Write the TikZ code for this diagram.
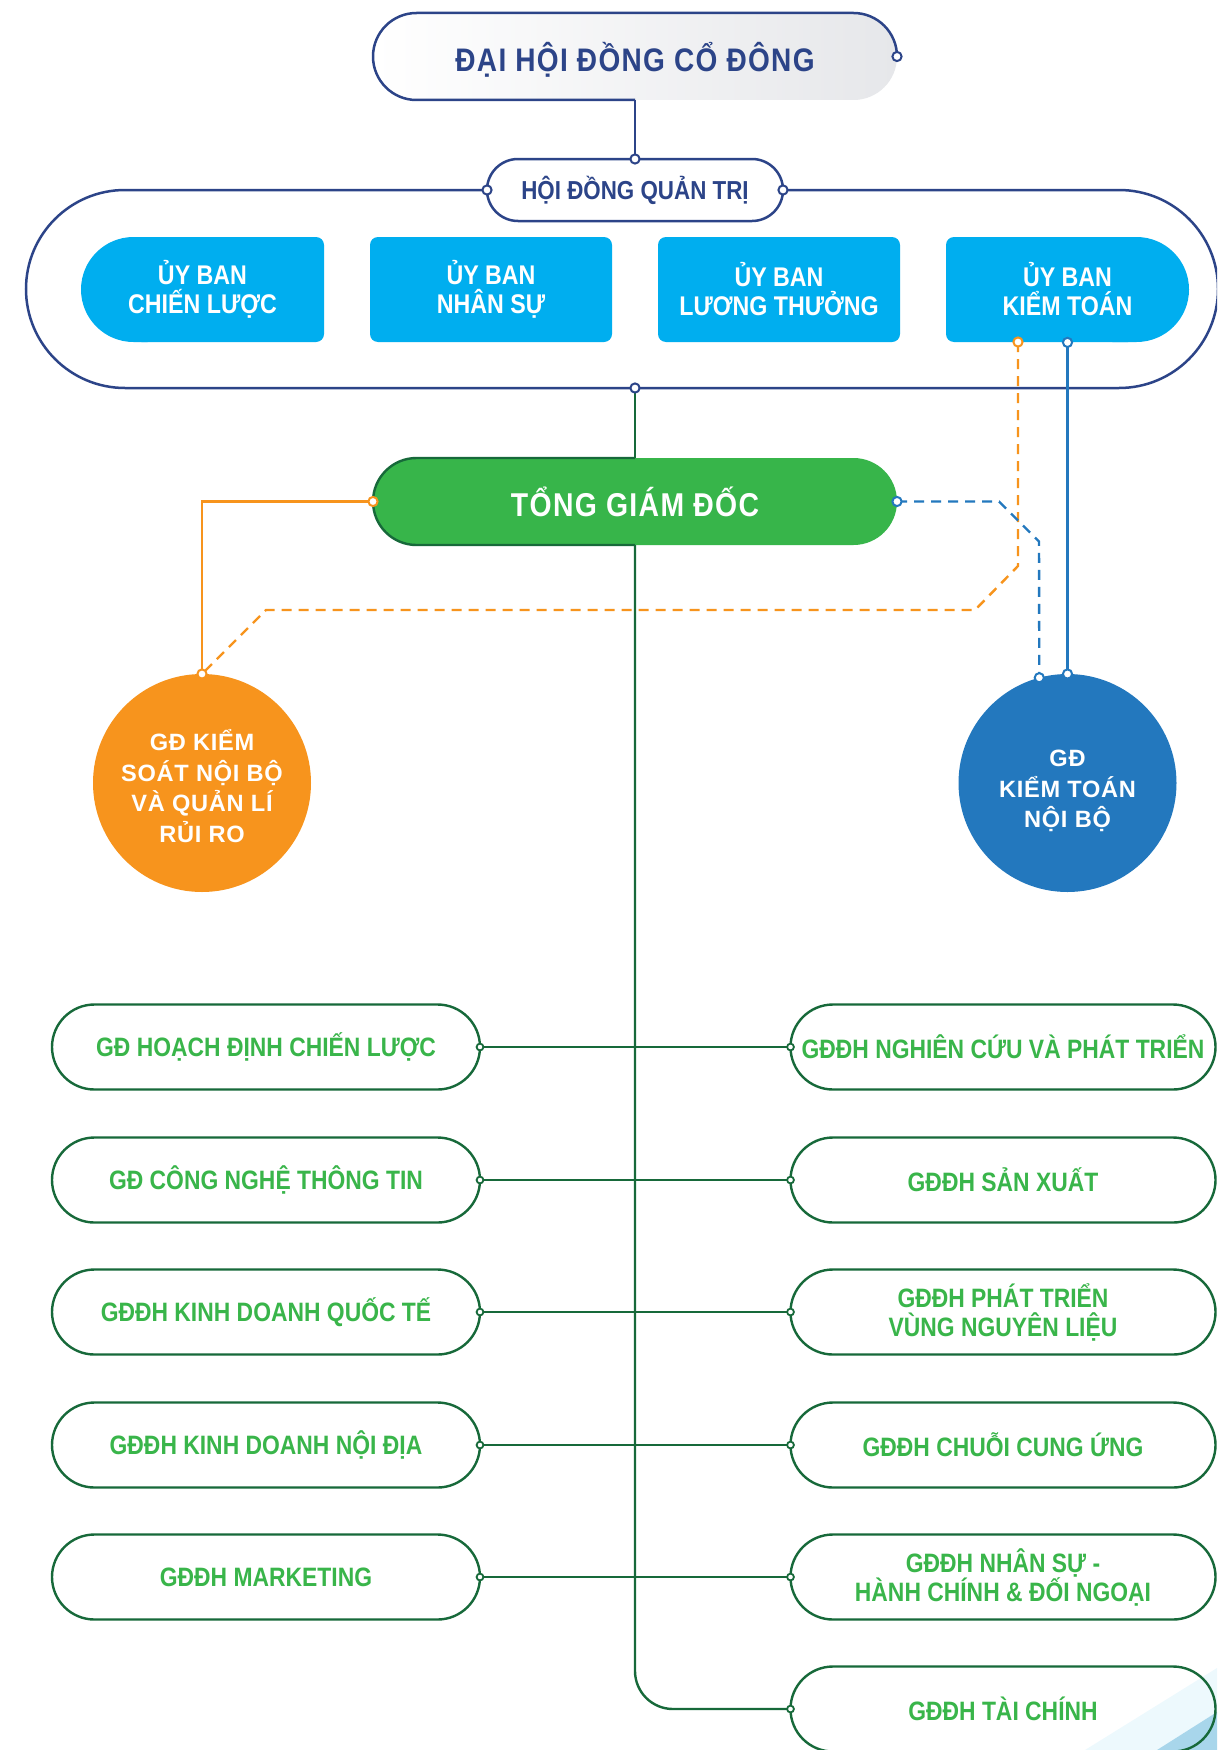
\documentclass[tikz,border=0pt]{standalone}
\usepackage{fontspec}
\setmainfont{Liberation Sans}[FakeStretch=0.86]
\newfontfamily\condls{Liberation Sans}[FakeStretch=0.86,LetterSpace=4]
\newfontfamily\widefont{Liberation Sans}[LetterSpace=3]
\usetikzlibrary{shapes.misc}
\definecolor{navy}{HTML}{2C4488}
\definecolor{cyanc}{HTML}{00AEEF}
\definecolor{gfill}{HTML}{37B54A}
\definecolor{dgreen}{HTML}{17693A}
\definecolor{tgreen}{HTML}{39B54A}
\definecolor{orangec}{HTML}{F7941D}
\definecolor{bluec}{HTML}{2378BE}
\definecolor{paleblue}{HTML}{A8D6EB}
\definecolor{lgray}{HTML}{E6E7EA}
\begin{document}
\begin{tikzpicture}[x=0.5pt,y=-0.5pt,
  navyline/.style={draw=navy,line width=1.25pt},
  gline/.style={draw=dgreen,line width=1.2pt},
  oline/.style={draw=orangec,line width=1.2pt},
  bline/.style={draw=bluec,line width=1.2pt},
  odash/.style={draw=orangec,line width=1.2pt,dash pattern=on 5pt off 3.5pt},
  bdash/.style={draw=bluec,line width=1.2pt,dash pattern=on 5pt off 3.5pt},
  dotbase/.style={circle,fill=white,inner sep=0pt,line width=1pt,minimum size=4.6pt},
  ndot/.style={dotbase,draw=navy},
  odot/.style={dotbase,draw=orangec},
  bdot/.style={dotbase,draw=bluec},
  gdot/.style={dotbase,draw=dgreen,minimum size=3.4pt,line width=0.9pt},
  stad/.style={rounded rectangle,inner sep=0pt,outer sep=0pt},
  cmtext/.style={text=white,align=center,inner sep=0pt,minimum width=121.5pt,minimum height=52.5pt,
    font=\bfseries\fontsize{13.5}{14.5}\selectfont},
  gbox/.style={stad,draw=dgreen,line width=1.2pt,minimum width=214pt,minimum height=42.5pt,
    text=tgreen,align=center,font=\bfseries\fontsize{13.3}{14.5}\selectfont},
  rbox/.style={gbox,minimum width=212.5pt},
  bigcirc/.style={circle,inner sep=0pt,outer sep=0pt,minimum size=109pt},
  circtext/.style={text=white,align=center,inner sep=0pt,
    font=\widefont\bfseries\fontsize{11.8}{15.3}\selectfont}
]
\clip (0,0) rectangle (1217,1750);
\fill[white] (0,0) rectangle (1217,1750);

% ---- top box
\node[stad,minimum width=262pt,minimum height=43.5pt,left color=white,right color=lgray] (dhdcd) at (635,56.5) {};
\node[text=navy,inner sep=0pt,font=\condls\bfseries\fontsize{16.3}{19}\selectfont] (dhdcdt) at (635,60) {ĐẠI HỘI ĐỒNG CỔ ĐÔNG};
\draw[navyline,rounded corners=21.75pt] (dhdcd.south) -- (dhdcd.south -| dhdcd.west)
  -- (dhdcd.north -| dhdcd.west) -- (dhdcd.north -| dhdcd.east) -- (dhdcd.east);

% ---- board
\node[stad,draw=navy,line width=1.25pt,fill=white,minimum width=148pt,minimum height=31pt,
  text=navy,font=\bfseries\fontsize{13}{15}\selectfont] (hdqt) at (635,190) {HỘI ĐỒNG QUẢN TRỊ};
\draw[navyline] (dhdcd.south) -- (hdqt.north);
\coordinate (olt) at (26,190);
\coordinate (olb) at (26,388);
\coordinate (orb) at (1218,388);
\coordinate (ort) at (1218,190);
\coordinate (obot) at (635,388);
\draw[navyline,rounded corners=49.5pt] (hdqt.west) -- (olt) -- (olb) -- (orb) -- (ort) -- (hdqt.east);

% ---- committees
\fill[cyanc,rounded corners=4pt] (133.5,237) rectangle (324,342);
\fill[cyanc,rounded corners=26.25pt] (81,237) rectangle (200,342);
\fill[cyanc,rounded corners=4pt] (370,237) rectangle (612,342);
\fill[cyanc,rounded corners=4pt] (658,237) rectangle (900,342);
\fill[cyanc,rounded corners=4pt] (946,237) rectangle (1136,342);
\fill[cyanc,rounded corners=26.25pt] (1060,237) rectangle (1189,342);
\node[cmtext] (ub1) at (202.5,289.5) {ỦY BAN\\CHIẾN LƯỢC};
\node[cmtext] (ub2) at (491,289.5) {ỦY BAN\\NHÂN SỰ};
\node[cmtext] (ub3) at (779,289.5) {ỦY BAN\\LƯƠNG THƯỞNG};
\node[cmtext] (ub4) at (1067.5,289.5) {ỦY BAN\\KIỂM TOÁN};
\coordinate (kto) at (1018,342);

% ---- CEO
\node[stad,fill=gfill,minimum width=262pt,minimum height=43.5pt,text=white,
  font=\condls\bfseries\fontsize{16.5}{19}\selectfont] (tgd) at (635,501.5) {TỔNG GIÁM ĐỐC};
\draw[gline,rounded corners=21.75pt] (tgd.north) -- (tgd.north -| tgd.west)
  -- (tgd.south -| tgd.west) -- (tgd.south);

% ---- circles
\node[bigcirc,fill=orangec] (ksnb) at (202,783) {};
\node[circtext] (ksnbt) at (202,786) {GĐ KIỂM\\SOÁT NỘI BỘ\\VÀ QUẢN LÍ\\RỦI RO};
\node[bigcirc,fill=bluec] (ktnb) at (1067.5,783) {};
\node[circtext] (ktnbt) at (1067.5,791) {GĐ\\KIỂM TOÁN\\NỘI BỘ};

% ---- green boxes
\node[gbox] (l1) at (266,1047) {GĐ HOẠCH ĐỊNH CHIẾN LƯỢC};
\node[gbox] (l2) at (266,1180) {GĐ CÔNG NGHỆ THÔNG TIN};
\node[gbox] (l3) at (266,1312) {GĐĐH KINH DOANH QUỐC TẾ};
\node[gbox] (l4) at (266,1445) {GĐĐH KINH DOANH NỘI ĐỊA};
\node[gbox] (l5) at (266,1577) {GĐĐH MARKETING};
\node[rbox] (r1) at (1003,1047) {GĐĐH NGHIÊN CỨU VÀ PHÁT TRIỂN};
\node[rbox] (r2) at (1003,1180) {GĐĐH SẢN XUẤT};
\node[rbox] (r3) at (1003,1312) {GĐĐH PHÁT TRIỂN\\VÙNG NGUYÊN LIỆU};
\node[rbox] (r4) at (1003,1445) {GĐĐH CHUỖI CUNG ỨNG};
\node[rbox] (r5) at (1003,1577) {GĐĐH NHÂN SỰ -\\HÀNH CHÍNH \& ĐỐI NGOẠI};
% decoration bottom right
\fill[cyanc,opacity=0.07] (1085,1750) -- (1217,1668) -- (1217,1712) -- (1157,1750) -- cycle;
\fill[paleblue] (1157,1750) -- (1217,1712) -- (1217,1750) -- cycle;
\node[rbox] (r6) at (1003,1709) {GĐĐH TÀI CHÍNH};

% ---- connectors
\draw[gline] (obot) -- (tgd.north);
\draw[gline,rounded corners=19pt] (tgd.south) |- (r6.west);
\foreach \i in {1,...,5}{
  \draw[gline] (l\i.east) -- (r\i.west);
  \node[gdot] at (l\i.east) {};
  \node[gdot] at (r\i.west) {};
}
\node[gdot] at (r6.west) {};

\draw[oline] (tgd.west) -| (ksnb.north);
\draw[odash] (kto) -- (1018,566) -- (975,610) -- (266,610) -- (ksnb.north);
\draw[bline] (ub4.south) -- (ktnb.north);
\draw[bdash] (tgd.east) -- (999,501.5) -- (1039,541.5) -- (ktnb.105);

% dots
\node[ndot] at (dhdcd.east) {};
\node[ndot] at (hdqt.north) {};
\node[ndot] at (hdqt.west) {};
\node[ndot] at (hdqt.east) {};
\node[ndot] at (obot) {};
\node[odot] at (tgd.west) {};
\node[odot] at (kto) {};
\node[odot] at (ksnb.north) {};
\node[bdot] at (tgd.east) {};
\node[bdot] at (ub4.south) {};
\node[bdot] at (ktnb.north) {};
\node[bdot] at (ktnb.105) {};
\end{tikzpicture}
\end{document}
